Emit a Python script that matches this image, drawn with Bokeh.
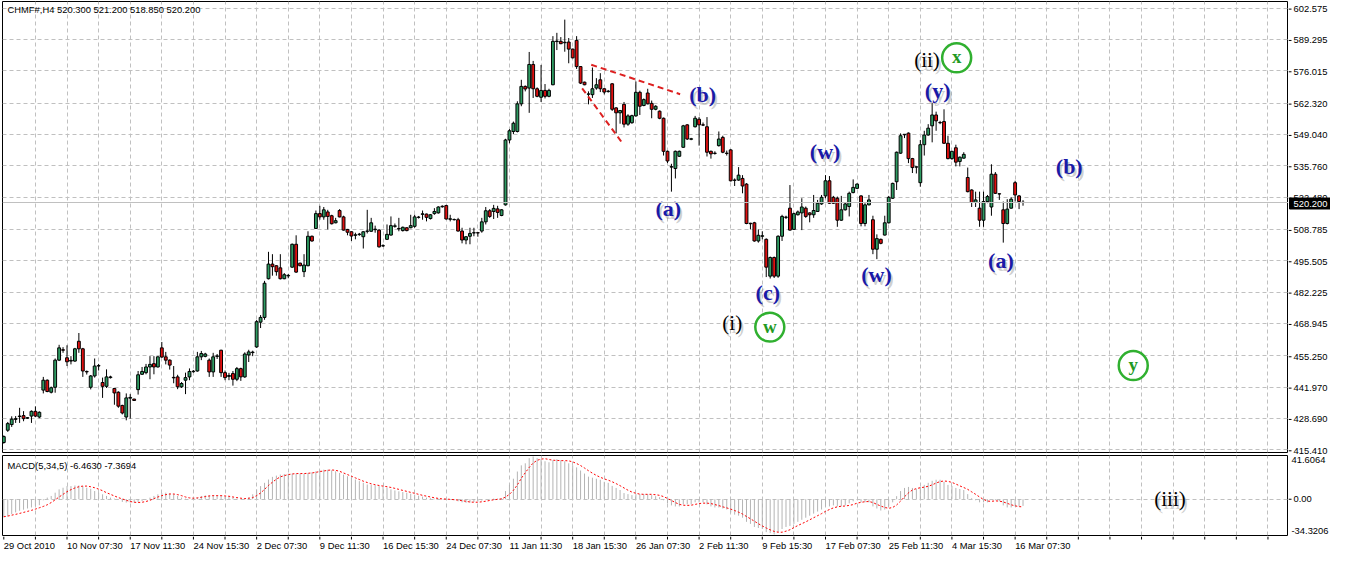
from bokeh.plotting import figure
from bokeh.layouts import column, row
from bokeh.models import Range1d, FixedTicker, ColumnDataSource, Span
from bokeh.core.properties import value
from bokeh.embed import file_html
from bokeh.resources import INLINE

# ---------------- data (CHMF#, H4) ----------------
opens = [
418.5, 423.7, 426.1, 428.3, 429.5, 429.9, 428.8, 429.7, 431.7, 429.3,
440.7, 444.9, 439.8, 441.9, 453.4, 457.8, 454.4, 453.0, 453.0, 461.4,
458.2, 448.6, 441.9, 446.7, 450.9, 443.9, 442.3, 446.0, 441.4, 439.8,
434.2, 429.3, 437.3, 436.9, 440.9, 447.4, 448.1, 450.5, 451.9, 450.5,
458.6, 454.8, 453.4, 446.1, 446.3, 442.1, 444.9, 446.3, 448.5, 448.8,
454.8, 455.0, 453.4, 448.4, 455.0, 457.6, 448.1, 446.5, 447.7, 445.3,
449.8, 446.3, 455.6, 456.6, 459.0, 469.5, 471.5, 487.9, 494.1, 493.4,
492.5, 487.9, 489.1, 492.8, 502.5, 494.5, 490.9, 493.4, 505.9, 509.2,
515.5, 514.1, 516.2, 514.6, 511.6, 516.8, 514.1, 508.8, 507.8, 506.3,
506.6, 505.7, 508.0, 508.0, 508.7, 508.5, 501.8, 504.6, 506.4, 510.1,
509.2, 508.3, 509.5, 509.5, 510.1, 513.9, 515.2, 515.3, 513.4, 515.5,
515.8, 518.4, 518.9, 513.1, 512.9, 512.9, 508.1, 504.3, 505.9, 507.3,
507.4, 508.1, 512.0, 516.7, 516.4, 517.5, 514.7, 519.2, 546.7, 550.3,
550.3, 562.0, 569.4, 568.7, 578.7, 568.4, 564.8, 567.7, 565.2, 570.1,
588.4, 588.5, 587.9, 588.2, 585.2, 588.9, 577.8, 571.2, 566.1, 565.9,
568.7, 572.2, 568.4, 567.2, 570.5, 560.3, 558.2, 561.8, 553.4, 554.0,
556.9, 566.9, 561.3, 566.6, 562.2, 559.7, 558.9, 555.9, 541.9, 535.2,
534.6, 539.8, 543.6, 553.1, 547.0, 552.3, 555.5, 553.1, 552.3, 541.9,
541.0, 544.3, 547.8, 541.1, 542.5, 529.6, 529.7, 530.4, 528.0, 511.4,
511.6, 503.9, 505.9, 504.6, 489.0, 496.9, 489.0, 505.9, 513.9, 517.8,
508.8, 515.0, 515.8, 517.8, 515.8, 515.0, 516.4, 519.6, 523.0, 529.4,
522.4, 522.0, 512.7, 517.1, 518.5, 524.4, 526.2, 523.0, 511.3, 519.2,
512.9, 500.4, 504.6, 506.4, 511.6, 522.0, 529.0, 541.1, 548.9, 549.6,
538.8, 535.2, 528.6, 544.7, 548.8, 552.7, 557.3, 554.1, 554.5, 545.3,
538.8, 543.4, 537.6, 539.0, 530.8, 525.5, 520.2, 517.8, 512.7, 520.6,
518.3, 532.2, 523.9, 517.1, 511.3, 517.8, 528.6, 523.0, 520.3]

highs = [
421.5, 427.2, 429.6, 429.7, 433.2, 431.8, 429.3, 432.1, 433.8, 431.7,
446.3, 445.2, 442.2, 454.1, 459.9, 458.9, 459.7, 455.1, 458.6, 464.9,
458.6, 449.0, 447.1, 454.1, 451.8, 446.0, 449.5, 446.8, 441.6, 440.2,
434.5, 439.3, 439.0, 437.0, 448.8, 450.5, 451.8, 455.1, 455.1, 455.0,
461.1, 456.9, 453.7, 450.9, 447.2, 444.1, 448.1, 449.9, 449.2, 456.9,
457.3, 456.5, 454.1, 456.5, 456.0, 457.8, 449.0, 448.0, 448.8, 450.5,
450.2, 456.7, 457.8, 457.4, 470.4, 472.5, 487.0, 499.3, 498.3, 493.6,
498.3, 490.3, 489.9, 502.8, 506.3, 494.7, 498.3, 508.0, 506.2, 516.8,
518.8, 518.3, 517.1, 515.0, 513.7, 517.4, 514.6, 509.0, 508.0, 507.4,
507.3, 508.0, 517.1, 513.7, 510.4, 508.9, 502.5, 510.9, 514.3, 511.3,
513.7, 510.0, 509.7, 515.0, 515.0, 514.5, 516.8, 515.5, 515.3, 517.8,
518.6, 519.0, 519.2, 515.0, 513.4, 513.7, 509.5, 505.9, 509.5, 509.5,
507.6, 513.7, 518.3, 517.4, 519.2, 518.8, 517.4, 547.2, 551.3, 554.5,
563.1, 572.2, 569.8, 584.0, 580.2, 569.0, 578.5, 570.4, 568.4, 590.7,
592.1, 590.3, 597.7, 589.9, 585.4, 590.7, 578.0, 571.4, 567.3, 577.4,
572.9, 575.0, 568.6, 567.9, 570.8, 560.6, 559.4, 562.8, 557.6, 557.4,
571.5, 567.6, 564.3, 568.4, 563.4, 561.4, 559.2, 556.2, 542.2, 536.6,
542.2, 542.2, 553.1, 553.4, 547.6, 556.9, 556.4, 554.1, 556.4, 542.2,
541.9, 550.3, 548.5, 542.2, 542.8, 530.4, 535.2, 531.8, 528.4, 511.6,
512.0, 508.8, 508.0, 505.0, 497.3, 497.3, 506.3, 515.0, 514.6, 527.6,
515.9, 516.8, 522.0, 518.5, 516.0, 523.4, 521.3, 523.4, 531.8, 531.4,
523.0, 522.7, 523.0, 520.0, 524.8, 530.0, 528.3, 523.3, 519.9, 523.4,
514.6, 506.7, 504.9, 514.6, 523.0, 528.6, 541.8, 549.5, 549.2, 549.9,
539.1, 535.5, 546.7, 550.6, 553.4, 562.4, 558.7, 554.8, 559.7, 548.5,
542.0, 544.7, 539.7, 541.5, 535.0, 525.8, 524.8, 524.8, 524.8, 523.4,
536.4, 533.1, 524.1, 520.6, 521.6, 522.4, 529.4, 523.4, 521.2]

lows = [
418.0, 423.0, 425.1, 426.8, 426.8, 427.5, 428.5, 426.8, 429.3, 428.8,
439.3, 439.8, 439.3, 439.6, 453.0, 456.5, 450.9, 451.6, 452.7, 456.5,
446.3, 447.3, 441.0, 446.0, 449.0, 437.4, 441.6, 445.6, 434.5, 433.2,
430.4, 427.9, 428.6, 436.2, 438.8, 447.2, 447.4, 445.3, 447.4, 450.3,
454.4, 451.6, 449.4, 443.6, 441.1, 441.6, 439.0, 444.9, 448.1, 448.5,
453.4, 454.6, 446.3, 446.3, 453.9, 446.3, 444.9, 444.9, 442.6, 444.5,
444.6, 445.9, 452.6, 455.1, 458.6, 467.0, 470.5, 487.6, 489.2, 489.2,
487.6, 487.7, 488.1, 492.5, 490.4, 493.2, 488.6, 493.2, 503.6, 509.0,
512.9, 512.9, 508.8, 510.9, 511.4, 513.9, 508.3, 506.3, 503.9, 504.6,
506.1, 500.7, 507.1, 507.8, 507.4, 501.1, 501.4, 504.3, 506.2, 509.5,
508.0, 507.9, 508.0, 509.3, 509.5, 513.4, 512.9, 512.2, 513.0, 515.0,
515.5, 518.0, 513.0, 512.2, 512.6, 507.9, 502.9, 502.5, 502.5, 505.9,
505.7, 507.4, 510.9, 513.7, 513.2, 513.7, 514.4, 518.9, 545.3, 549.2,
549.9, 561.0, 567.3, 558.2, 564.5, 564.8, 562.8, 564.3, 564.8, 569.9,
584.8, 587.3, 584.1, 579.2, 581.3, 576.8, 570.4, 569.9, 561.8, 564.5,
568.0, 567.0, 566.0, 566.8, 559.0, 549.5, 553.6, 552.0, 552.7, 553.6,
556.6, 557.3, 561.0, 561.8, 555.9, 559.3, 555.5, 540.1, 536.9, 524.8,
530.4, 539.5, 543.4, 546.7, 546.6, 552.0, 544.3, 552.6, 539.7, 538.8,
540.5, 543.9, 541.1, 540.1, 529.1, 527.2, 529.4, 524.1, 511.0, 508.8,
503.6, 503.2, 504.6, 488.6, 488.0, 488.2, 488.3, 503.9, 513.2, 508.3,
508.6, 514.7, 508.5, 513.7, 511.8, 513.7, 516.2, 519.2, 522.0, 519.6,
519.6, 509.9, 512.4, 516.8, 514.3, 524.1, 525.9, 510.1, 510.1, 519.0,
498.3, 496.2, 502.5, 506.2, 511.3, 521.7, 525.5, 540.8, 547.5, 536.9,
532.7, 532.5, 526.9, 540.1, 548.5, 545.7, 550.6, 553.4, 545.0, 538.5,
538.3, 535.5, 535.5, 538.8, 524.5, 518.3, 518.3, 509.9, 509.9, 519.9,
514.6, 523.8, 521.3, 503.2, 510.9, 517.6, 520.6, 517.4, 518.85]

closes = [
421.0, 426.5, 428.4, 428.6, 429.7, 428.6, 429.0, 431.7, 429.7, 431.3,
444.9, 440.1, 441.7, 453.4, 458.6, 457.6, 452.7, 453.3, 458.2, 458.2,
448.8, 448.4, 446.7, 450.9, 451.1, 442.3, 446.3, 446.3, 439.5, 433.9,
431.0, 437.4, 437.6, 436.3, 447.2, 448.6, 450.5, 451.6, 450.5, 454.8,
454.7, 453.4, 451.3, 445.9, 442.1, 443.5, 446.0, 448.6, 448.7, 454.8,
456.2, 456.0, 448.4, 454.8, 455.2, 448.1, 446.0, 446.9, 445.3, 449.8,
446.3, 456.0, 456.9, 456.8, 469.7, 471.5, 486.0, 494.1, 493.0, 490.9,
487.9, 489.6, 489.3, 502.5, 490.7, 493.4, 493.7, 505.9, 503.9, 515.5,
514.1, 517.1, 514.3, 511.2, 512.5, 514.1, 508.5, 507.6, 506.0, 506.5,
506.8, 507.8, 508.1, 511.6, 508.9, 501.4, 501.9, 506.7, 510.4, 510.3,
509.0, 509.7, 508.3, 510.4, 514.1, 514.0, 515.4, 513.9, 515.0, 516.4,
518.3, 518.6, 513.2, 513.3, 513.0, 508.1, 504.3, 505.7, 507.1, 507.4,
507.3, 512.0, 516.7, 514.3, 517.7, 516.0, 517.1, 546.7, 550.6, 553.8,
562.0, 569.4, 568.3, 578.7, 568.4, 565.2, 567.7, 565.2, 567.7, 588.5,
588.6, 587.5, 588.1, 585.2, 581.5, 577.8, 570.8, 570.1, 566.2, 568.4,
570.1, 568.4, 567.0, 567.4, 559.7, 558.2, 559.2, 553.4, 556.9, 557.0,
566.9, 561.0, 563.8, 562.0, 559.7, 561.0, 555.9, 541.9, 537.8, 535.4,
541.9, 541.9, 552.7, 547.1, 547.2, 555.9, 553.1, 553.0, 541.5, 540.8,
541.1, 547.1, 541.5, 541.0, 529.4, 529.7, 531.8, 527.2, 511.3, 511.2,
503.9, 506.3, 506.1, 492.8, 496.9, 489.0, 505.9, 514.3, 514.0, 508.5,
515.5, 516.2, 518.3, 514.3, 515.0, 516.8, 519.9, 522.4, 529.4, 519.9,
519.9, 512.7, 517.1, 519.6, 524.1, 526.6, 528.0, 511.3, 519.2, 521.3,
500.4, 504.9, 502.9, 511.6, 522.4, 528.3, 541.5, 548.5, 549.1, 538.8,
535.0, 535.3, 544.7, 548.8, 551.7, 557.3, 554.8, 554.0, 545.3, 538.8,
541.9, 537.3, 539.4, 540.6, 524.8, 520.2, 521.3, 512.7, 520.6, 522.7,
532.2, 524.1, 523.8, 511.3, 517.4, 521.6, 523.4, 520.6, 520.2]

macd_main = [
-17.6, -16.6, -14.4, -12.8, -11.2, -10.2, -9.0, -8.0, -6.4, -5.8,
-1.0, 1.6, 3.2, 6.4, 9.6, 11.2, 12.8, 12.8, 13.4, 13.4,
12.8, 11.2, 10.2, 8.0, 6.4, 4.8, 3.2, 1.6, 0.6, -0.6,
-2.6, -3.2, -3.2, -3.2, -2.6, -1.6, 0.0, 1.6, 3.2, 4.8,
5.8, 6.4, 5.8, 4.8, 3.2, 1.6, 0.6, 0.0, 0.6, 1.6,
3.2, 3.8, 3.8, 3.8, 3.2, 3.2, 2.6, 2.6, 1.6, 0.6,
0.0, 0.6, 1.6, 4.8, 9.6, 12.8, 16.0, 19.2, 21.8, 23.0,
24.0, 24.6, 25.0, 25.0, 25.0, 25.0, 25.0, 25.6, 26.2, 27.2,
28.2, 28.8, 28.8, 28.2, 27.2, 25.6, 24.0, 22.4, 20.8, 19.2,
17.6, 16.0, 14.4, 13.8, 13.4, 12.8, 12.2, 11.2, 9.6, 8.6,
7.7, 7.0, 6.4, 5.4, 4.5, 3.5, 2.6, 1.6, 1.0, 0.6,
0.6, 0.3, 0.0, -0.6, -1.0, -2.0, -3.0, -3.5, -3.2, -2.6,
-2.2, -1.3, 0.0, 0.3, 0.6, 0.6, 1.0, 8.0, 14.0, 20.0,
27.0, 33.0, 35.0, 40.0, 41.6, 40.0, 39.0, 37.0, 36.0, 38.0,
39.0, 38.0, 37.0, 35.0, 33.0, 31.0, 28.0, 25.0, 22.0, 21.0,
20.0, 19.0, 17.0, 16.0, 13.0, 11.0, 9.0, 6.0, 5.0, 4.0,
5.0, 5.0, 5.0, 5.0, 4.0, 3.0, 2.0, -1.0, -4.0, -6.0,
-7.0, -7.0, -5.0, -5.0, -5.0, -3.0, -3.0, -3.0, -5.0, -7.0,
-8.0, -8.0, -9.0, -10.0, -13.0, -15.0, -16.0, -18.0, -22.0, -24.0,
-27.0, -28.0, -29.0, -32.0, -33.0, -34.3, -32.0, -29.0, -27.0, -26.0,
-24.0, -22.0, -20.0, -18.0, -16.0, -14.0, -12.0, -10.0, -7.0, -7.0,
-6.0, -7.0, -7.0, -6.0, -4.0, -2.0, 0.0, -3.0, -3.0, -3.0,
-7.0, -9.0, -11.0, -10.0, -7.0, -3.0, 3.0, 8.0, 11.0, 12.0,
11.0, 10.0, 12.0, 14.0, 16.0, 18.0, 19.0, 19.0, 17.0, 14.0,
13.0, 11.0, 10.0, 9.0, 5.0, 1.0, -1.0, -3.0, -3.0, -3.0,
0.0, -1.0, -2.0, -6.0, -8.0, -8.0, -7.0, -7.0, -6.463]

macd_signal = [
-17.0, -16.4, -15.5, -14.7, -13.8, -12.8, -11.8, -10.8, -9.6, -8.3,
-7.0, -5.4, -3.2, -0.6, 2.2, 4.8, 7.4, 9.3, 11.0, 12.2,
12.8, 12.8, 12.2, 11.2, 9.9, 8.3, 6.4, 4.8, 3.2, 1.6,
0.3, -1.0, -2.2, -2.9, -3.2, -2.9, -2.2, -1.0, 0.6, 2.2,
3.5, 4.5, 5.1, 5.1, 4.5, 3.5, 2.2, 1.3, 1.0, 1.3,
1.9, 2.6, 3.2, 3.5, 3.5, 3.5, 3.2, 2.9, 2.2, 1.6,
1.0, 0.6, 1.0, 1.6, 3.5, 6.1, 9.6, 13.4, 16.6, 19.5,
21.8, 23.0, 24.0, 24.6, 25.0, 25.0, 25.0, 25.3, 25.6, 26.2,
27.0, 27.5, 28.2, 28.5, 28.2, 27.2, 25.6, 24.0, 22.4, 20.8,
19.2, 17.6, 16.3, 15.0, 14.1, 13.4, 12.8, 12.2, 11.5, 10.6,
9.6, 8.6, 7.7, 6.7, 5.8, 4.8, 3.8, 3.0, 2.2, 1.4,
0.8, 0.3, 0.2, -0.1, -0.4, -0.8, -1.4, -2.0, -2.7, -2.9,
-2.9, -2.5, -1.9, -1.2, -0.5, -0.1, 0.4, 2.1, 4.8, 8.7,
14.0, 20.4, 25.8, 31.0, 35.3, 37.9, 39.1, 39.5, 38.7, 38.0,
37.8, 37.6, 37.6, 37.4, 36.4, 34.8, 32.8, 30.4, 27.8, 25.4,
23.2, 21.4, 19.8, 18.6, 17.0, 15.2, 13.2, 11.0, 8.8, 7.0,
5.8, 5.0, 4.8, 4.8, 4.8, 4.4, 3.8, 2.6, 0.8, -1.2,
-3.2, -5.0, -5.8, -6.0, -5.8, -5.0, -4.2, -3.8, -3.8, -4.2,
-5.2, -6.2, -7.4, -8.4, -9.6, -11.0, -12.6, -14.4, -16.8, -19.0,
-21.4, -23.8, -26.0, -28.0, -29.8, -31.3, -32.1, -32.1, -31.1, -29.7,
-27.6, -25.6, -23.8, -22.0, -20.0, -18.0, -16.0, -14.0, -11.8, -10.0,
-8.4, -7.4, -6.8, -6.6, -6.0, -5.2, -3.8, -3.0, -2.4, -2.2,
-3.2, -5.0, -6.6, -8.0, -8.8, -8.0, -5.6, -1.8, 2.4, 6.2,
9.0, 10.4, 11.2, 11.8, 12.6, 14.0, 15.8, 17.2, 17.8, 17.4,
16.4, 14.8, 13.0, 11.4, 9.6, 7.2, 4.8, 2.2, -0.2, -1.8,
-2.0, -1.6, -1.8, -2.6, -4.0, -5.4, -6.4, -7.2, -7.3694]

price_ticks = [602.575, 589.295, 576.015, 562.320, 549.040, 535.760, 522.480,
               508.785, 495.505, 482.225, 468.945, 455.250, 441.970, 428.690, 415.410]
macd_max, macd_min = 41.6064, -34.3206
date_labels = ["29 Oct 2010", "10 Nov 07:30", "17 Nov 11:30", "24 Nov 15:30", "2 Dec 07:30",
               "9 Dec 11:30", "16 Dec 15:30", "24 Dec 07:30", "11 Jan 11:30", "18 Jan 15:30",
               "26 Jan 07:30", "2 Feb 11:30", "9 Feb 15:30", "17 Feb 07:30", "25 Feb 11:30",
               "4 Mar 15:30", "16 Mar 07:30"]
date_bars = [16 * k for k in range(len(date_labels))]

# wave annotations (bar index, price)
wave_text = ["(b)", "(a)", "(c)", "(w)", "(w)", "(y)", "(a)", "(b)"]
wave_x = [176.9, 168.2, 193.4, 207.9, 220.9, 236.4, 252.4, 269.7]
wave_y = [566.1, 517.5, 482.0, 541.8, 489.9, 567.7, 495.8, 535.5]
deg_text = ["(ii)", "(i)"]
deg_x = [233.7, 184.4]
deg_y = [580.7, 469.0]
circ_text = ["x", "w", "y"]
circ_x = [241.2, 193.9, 285.9]
circ_y = [581.5, 467.4, 451.1]
tl_x0 = [148.7, 146.4]
tl_y0 = [578.6, 568.6]
tl_x1 = [171.2, 156.7]
tl_y1 = [566.1, 545.1]

# ---------------- layout constants ----------------
FW = 1286          # plot frame width
AW = 42            # price-scale column width
H1, B1 = 451, 3    # main frame height, bottom border
H2 = 80            # MACD frame height
FONT = "Liberation Sans"
FS = "9.4px"
GRID = "#c0c0c0"
bars = list(range(len(closes)))
xr = Range1d(-0.33, 325.2)
vgrid = list(range(8, 326, 8))
y1r = (414.26, 605.38)
y2r = (-35.3, 42.6)


def base(**kw):
    f = figure(toolbar_location=None, output_backend="svg", x_axis_location=None,
               y_axis_location=None, **kw)
    f.background_fill_color = "white"
    f.border_fill_color = "white"
    return f


# ---------------- main price panel ----------------
up = [c >= o for o, c in zip(opens, closes)]
src = ColumnDataSource(dict(
    x=bars, h=highs, l=lows,
    top=[max(o, c) for o, c in zip(opens, closes)],
    bot=[min(o, c) for o, c in zip(opens, closes)],
    col=["#2e9b62" if u else "#e01010" for u in up]))

p1 = base(frame_width=FW, frame_height=H1, x_range=xr, y_range=Range1d(*y1r),
          min_border_left=2, min_border_right=0, min_border_top=1, min_border_bottom=B1)
p1.outline_line_color = "black"
p1.ygrid.ticker = FixedTicker(ticks=price_ticks)
p1.xgrid.ticker = FixedTicker(ticks=vgrid)
for g in (p1.xgrid, p1.ygrid):
    g.grid_line_color = GRID
    g.grid_line_dash = "4 3"

p1.add_layout(Span(location=closes[-1], dimension="width", line_color="#c0c0c0", line_width=1))
p1.segment(x0="x", y0="h", x1="x", y1="l", source=src, line_color="black", line_width=1)
p1.vbar(x="x", width=0.72, top="top", bottom="bot", source=src,
        fill_color="col", line_color="black", line_width=1)

p1.segment(x0=tl_x0, y0=tl_y0, x1=tl_x1, y1=tl_y1, line_color="#dd2020", line_width=2, line_dash="6 4")

serif = value("Liberation Serif")
p1.text(x=wave_x, y=wave_y, text=wave_text, text_font=serif, text_font_style="bold",
        text_font_size="22px", text_color="#777777", text_alpha=0.35,
        text_align="center", text_baseline="middle", x_offset=2, y_offset=3)
p1.text(x=wave_x, y=wave_y, text=wave_text, text_font=serif, text_font_style="bold",
        text_font_size="22px", text_color="#1a1aa8", text_align="center", text_baseline="middle")
p1.text(x=deg_x, y=deg_y, text=deg_text, text_font=serif, text_font_size="21px",
        text_color="#777777", text_alpha=0.35, text_align="center", text_baseline="middle",
        x_offset=2, y_offset=3)
p1.text(x=deg_x, y=deg_y, text=deg_text, text_font=serif, text_font_size="21px",
        text_color="black", text_align="center", text_baseline="middle")
p1.scatter(x=circ_x, y=circ_y, marker="circle", size=29, fill_color=None,
           line_color="#777777", line_alpha=0.25, line_width=3, x_offset=2, y_offset=3) \
    if hasattr(figure, "_never_") else None
p1.scatter(x=circ_x, y=circ_y, marker="circle", size=29, fill_color="white",
           line_color="#30b030", line_width=2.5)
p1.text(x=circ_x, y=circ_y, text=circ_text, text_font=serif, text_font_style="bold",
        text_font_size="19px", text_color="#229922", text_align="center",
        text_baseline="middle", y_offset=-1)

p1.text(x=[xr.start], y=[y1r[1]], text=["CHMF#,H4  520.300 521.200 518.850 520.200"],
        text_font=value(FONT), text_font_size=FS, text_color="black",
        text_align="left", text_baseline="top", x_offset=5, y_offset=2)

# price scale column (shares the price scale, extended over the border rows)
k1 = (y1r[1] - y1r[0]) / H1
a1 = base(frame_width=AW, frame_height=H1 + 1 + B1, x_range=Range1d(0, AW),
          y_range=Range1d(y1r[0] - B1 * k1, y1r[1] + 1 * k1),
          min_border_left=0, min_border_right=0, min_border_top=0, min_border_bottom=0)
a1.outline_line_color = None
a1.xgrid.visible = False
a1.ygrid.visible = False
a1.segment(x0=[0] * len(price_ticks), y0=price_ticks, x1=[3] * len(price_ticks), y1=price_ticks,
           line_color="black", line_width=1)
a1.text(x=[5] * len(price_ticks), y=price_ticks, text=["%.3f" % v for v in price_ticks],
        text_font=value(FONT), text_font_size=FS, text_color="black",
        text_align="left", text_baseline="middle")
a1.quad(left=[1], right=[AW], bottom=[closes[-1] - 5.5 * k1], top=[closes[-1] + 5.5 * k1],
        fill_color="black", line_color="black")
a1.text(x=[5], y=[closes[-1]], text=["%.3f" % closes[-1]], text_font=value(FONT),
        text_font_size=FS, text_color="white", text_align="left", text_baseline="middle")

# ---------------- MACD panel ----------------
p2 = base(frame_width=FW, frame_height=H2, x_range=xr, y_range=Range1d(*y2r),
          min_border_left=2, min_border_right=0, min_border_top=0, min_border_bottom=1)
p2.outline_line_color = "black"
p2.ygrid.ticker = FixedTicker(ticks=[0])
p2.xgrid.ticker = FixedTicker(ticks=vgrid)
for g in (p2.xgrid, p2.ygrid):
    g.grid_line_color = GRID
    g.grid_line_dash = "4 3"
p2.segment(x0=bars, y0=[0] * len(bars), x1=bars, y1=macd_main, line_color="#b4b4b4", line_width=1)
p2.line(x=bars, y=macd_signal, line_color="#ff0000", line_width=1, line_dash="2 2")
p2.text(x=[xr.start], y=[y2r[1]], text=["MACD(5,34,5) -6.4630 -7.3694"],
        text_font=value(FONT), text_font_size=FS, text_color="black",
        text_align="left", text_baseline="top", x_offset=5, y_offset=4)
p2.text(x=[295.2], y=[0.5], text=["(iii)"], text_font=serif, text_font_size="21px",
        text_color="#777777", text_alpha=0.35, text_align="center", text_baseline="middle",
        x_offset=2, y_offset=3)
p2.text(x=[295.2], y=[0.5], text=["(iii)"], text_font=serif, text_font_size="21px",
        text_color="black", text_align="center", text_baseline="middle")

k2 = (y2r[1] - y2r[0]) / H2
a2 = base(frame_width=AW, frame_height=H2 + 1, x_range=Range1d(0, AW),
          y_range=Range1d(y2r[0] - 1 * k2, y2r[1]),
          min_border_left=0, min_border_right=0, min_border_top=0, min_border_bottom=0)
a2.outline_line_color = None
a2.xgrid.visible = False
a2.ygrid.visible = False
a2.segment(x0=[0], y0=[0], x1=[3], y1=[0], line_color="black", line_width=1)
a2.text(x=[3, 5, 3], y=[macd_max, 0, macd_min], text=["%.4f" % macd_max, "0.00", "%.4f" % macd_min],
        text_font=value(FONT), text_font_size=FS, text_color="black", text_align="left",
        text_baseline=["top", "middle", "bottom"])

# ---------------- time scale ----------------
p3 = base(frame_width=FW, frame_height=17, x_range=xr, y_range=Range1d(0, 17),
          min_border_left=2, min_border_right=AW, min_border_top=0, min_border_bottom=0)
p3.outline_line_color = None
p3.xgrid.visible = False
p3.ygrid.visible = False
ticks = list(range(0, 326, 8))
p3.segment(x0=ticks, y0=[17] * len(ticks), x1=ticks, y1=[14] * len(ticks), line_color="black", line_width=1)
p3.text(x=date_bars, y=[8.5] * len(date_bars), text=date_labels, text_font=value(FONT),
        text_font_size=FS, text_color="black", text_align="left", text_baseline="middle")

layout = column(row(p1, a1, spacing=0), row(p2, a2, spacing=0), p3, spacing=0)
open("out.html", "w").write(file_html(layout, INLINE, title="CHMF#,H4"))
